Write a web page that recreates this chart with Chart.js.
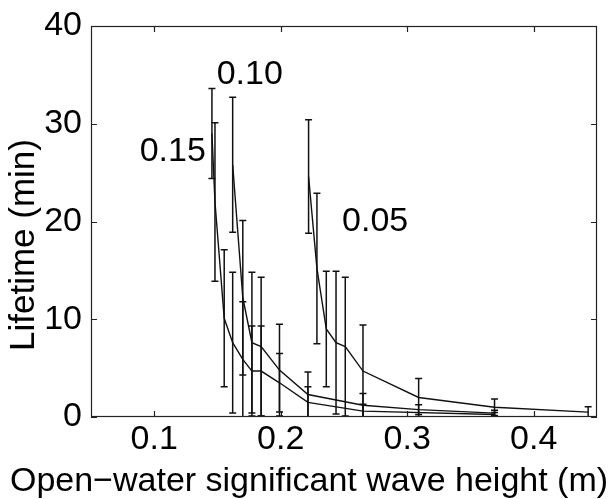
<!DOCTYPE html>
<html>
<head>
<meta charset="utf-8">
<script src="https://cdn.jsdelivr.net/npm/chart.js@4.4.0/dist/chart.umd.min.js"></script>
<style>
  html, body { margin: 0; padding: 0; background: #fff; }
  #wrap { width: 615px; height: 499px; }
</style>
</head>
<body>
<div id="wrap"><canvas id="myChart" width="615" height="499"></canvas></div>
<script>
// wave height (m), mean lifetime (min), error bar half-length (min)
const x005 = [0.222, 0.2286, 0.236, 0.2437, 0.251, 0.265, 0.309, 0.369, 0.443];
const y005 = [24.6, 15.2, 9.0, 7.6, 7.2, 4.7, 2.0, 1.0, 0.5];
const e005 = [5.8, 7.7, 5.9, 7.3, 7.1, 4.7, 1.95, 0.85, 0.55];

const x010 = [0.162, 0.170, 0.1772, 0.1845, 0.199, 0.2215, 0.265, 0.309, 0.369];
const y010 = [25.8, 12.2, 7.6, 7.2, 4.8, 2.3, 1.2, 0.75, 0.4];
const e010 = [6.9, 7.9, 7.2, 7.1, 4.7, 2.3, 1.2, 0.5, 0.3];

const x015 = [0.1456, 0.148, 0.1553, 0.162, 0.170, 0.1772, 0.1845, 0.199, 0.2215, 0.265, 0.369];
const y015 = [29.0, 22.0, 10.1, 7.6, 5.9, 4.7, 4.7, 3.5, 1.5, 0.6, 0.25];
const e015 = [4.6, 8.1, 7.0, 7.2, 5.9, 4.6, 4.6, 3.0, 1.6, 0.7, 0.2];

const xTicks = [0.1, 0.2, 0.3, 0.4];
const yTicks = [0, 10, 20, 30, 40];

// curve labels, placed in data units
const curveLabels = ['0.15', '0.10', '0.05'];
const labelX = [0.1146, 0.1755, 0.2746];
const labelY = [27.1, 35.0, 20.0];

const xTitle = 'Open\u2212water significant wave height (m)';
const yTitle = 'Lifetime (min)';

const FONT = 'Liberation Sans, Arial, Helvetica, sans-serif';

const toPoints = (xs, ys) => xs.map((v, i) => ({ x: v, y: ys[i] }));

const makeSet = (name, xs, ys, es) => ({
  label: name,
  data: toPoints(xs, ys),
  errors: es,
  borderColor: '#111',
  borderWidth: 1.4,
  pointRadius: 0,
  tension: 0,
  fill: false
});

// error bars, inward ticks, box, axis titles and curve labels
const extras = {
  id: 'extras',
  afterDatasetsDraw(chart) {
    const ctx = chart.ctx;
    const xs = chart.scales.x, ys = chart.scales.y;
    const a = chart.chartArea;
    ctx.save();
    ctx.beginPath();
    ctx.rect(a.left, a.top, a.right - a.left, a.bottom - a.top);
    ctx.clip();
    ctx.strokeStyle = '#111';
    ctx.lineWidth = 1.5;
    chart.data.datasets.forEach(ds => {
      ds.data.forEach((p, i) => {
        const e = ds.errors[i];
        const px = xs.getPixelForValue(p.x);
        const lo = ys.getPixelForValue(p.y - e);
        const hi = ys.getPixelForValue(p.y + e);
        ctx.beginPath();
        ctx.moveTo(px, lo); ctx.lineTo(px, hi);
        ctx.moveTo(px - 3.5, lo); ctx.lineTo(px + 3.5, lo);
        ctx.moveTo(px - 3.5, hi); ctx.lineTo(px + 3.5, hi);
        ctx.stroke();
      });
    });
    ctx.restore();

    ctx.save();
    ctx.strokeStyle = '#222';
    ctx.lineWidth = 1.2;
    ctx.strokeRect(a.left + 0.5, a.top + 0.5, a.right - a.left - 1, a.bottom - a.top - 1);
    ctx.beginPath();
    xTicks.forEach(v => {
      const px = Math.round(xs.getPixelForValue(v)) + 0.5;
      ctx.moveTo(px, a.bottom); ctx.lineTo(px, a.bottom - 6);
      ctx.moveTo(px, a.top); ctx.lineTo(px, a.top + 6);
    });
    yTicks.forEach(v => {
      const py = Math.round(ys.getPixelForValue(v)) + 0.5;
      ctx.moveTo(a.left, py); ctx.lineTo(a.left + 6, py);
      ctx.moveTo(a.right, py); ctx.lineTo(a.right - 6, py);
    });
    ctx.stroke();

    ctx.fillStyle = '#000';
    ctx.font = '34px ' + FONT;
    ctx.textAlign = 'center';
    ctx.textBaseline = 'middle';
    curveLabels.forEach((t, i) => {
      ctx.fillText(t, xs.getPixelForValue(labelX[i]), ys.getPixelForValue(labelY[i]));
    });

    // axis titles drawn without width squeezing, like the original
    ctx.font = '34px ' + FONT;
    ctx.fillText(xTitle, 309, 482);
    ctx.translate(24, 245);
    ctx.rotate(-Math.PI / 2);
    ctx.font = '35px ' + FONT;
    ctx.fillText(yTitle, 0, 0);
    ctx.restore();
  }
};

const ctx = document.getElementById('myChart').getContext('2d');
let myChart = new Chart(ctx, {
  type: 'line',
  data: {
    datasets: [
      makeSet('0.05', x005, y005, e005),
      makeSet('0.10', x010, y010, e010),
      makeSet('0.15', x015, y015, e015)
    ]
  },
  options: {
    responsive: false,
    animation: false,
    layout: { padding: { left: 4, right: 18, top: 21, bottom: 0 } },
    plugins: {
      legend: { display: false },
      tooltip: { enabled: false }
    },
    scales: {
      x: {
        type: 'linear',
        min: 0.05,
        max: 0.45,
        afterFit: s => { s.height = 82; },
        afterBuildTicks: s => { s.ticks = xTicks.map(v => ({ value: v })); },
        grid: { display: false, drawTicks: false },
        border: { display: false },
        ticks: {
          color: '#000',
          padding: 6,
          maxRotation: 0,
          font: { family: FONT, size: 34, lineHeight: 1 },
          callback: v => String(v)
        }
      },
      y: {
        min: 0,
        max: 40,
        afterFit: s => { s.width = 87; },
        afterBuildTicks: s => { s.ticks = yTicks.map(v => ({ value: v })); },
        grid: { display: false, drawTicks: false },
        border: { display: false },
        ticks: {
          color: '#000',
          padding: 9,
          font: { family: FONT, size: 34, lineHeight: 1 }
        }
      }
    }
  },
  plugins: [extras]
});
</script>
</body>
</html>
